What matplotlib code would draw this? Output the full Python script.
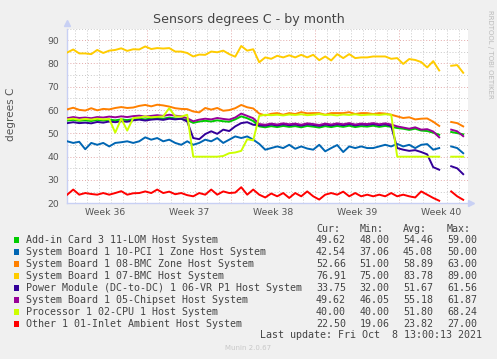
import numpy as np
import matplotlib
matplotlib.use("Agg")
import matplotlib.pyplot as plt
from matplotlib.patches import Rectangle

nan = np.nan
# time axis: days since Monday of week 36 (Sep 6 2021), 12-hour steps
days = np.round(0.35 + 0.5 * np.arange(67), 2)

addin = [55.5, 55.8, 55.4, 55.6, 55.3, 55.8, 55.5, 55.9, 55.6, 56.0, 55.7, 56.1, 56.3, 56.0, 56.4, 56.6,
         56.3, 56.8, 56.4, 56.2, 55.8, 54.5, 55.1, 55.4, 55.1, 55.6, 55.2, 55.0, 56.0, 57.3, 56.5, 55.3,
         53.0, 52.6, 53.1, 52.7, 53.2, 52.8, 53.1, 52.6, 53.2, 52.9, 52.5, 53.1, 52.7, 53.2, 52.8, 53.3,
         52.7, 53.1, 52.9, 53.3, 52.8, 53.2, 52.8, 52.3, 52.0, 51.5, 52.0, 51.2, 51.0, 50.3, 49.4, nan,
         50.6, 50.1, 49.6]
pci = [46.6, 45.9, 46.4, 43.2, 45.9, 45.1, 45.9, 44.4, 45.9, 46.2, 46.6, 45.9, 46.6, 48.3, 47.3, 48.0,
       46.6, 47.3, 45.9, 45.1, 46.6, 45.1, 45.9, 47.3, 46.6, 48.0, 45.9, 47.3, 48.7, 48.0, 48.7, 47.3,
       45.5, 43.0, 43.7, 44.4, 43.7, 45.1, 43.4, 44.4, 43.5, 43.0, 45.1, 42.3, 43.7, 45.0, 42.0, 44.4,
       43.7, 44.4, 43.7, 43.7, 44.4, 45.1, 44.4, 45.5, 44.4, 45.1, 43.7, 45.1, 45.4, 43.0, 43.7, nan,
       44.4, 43.7, 41.5]
bmc_zone = [60.3, 61.0, 60.1, 59.8, 60.8, 59.9, 60.5, 60.3, 60.9, 61.3, 60.9, 61.1, 61.8, 62.2, 61.6, 62.3,
            62.0, 61.5, 60.8, 60.5, 60.4, 59.4, 59.0, 60.9, 60.2, 60.9, 59.7, 60.0, 60.8, 62.2, 61.2, 60.7,
            58.5, 57.7, 58.4, 58.7, 58.0, 58.7, 58.3, 59.1, 58.6, 58.7, 58.7, 58.0, 58.7, 58.7, 58.7, 59.1,
            58.3, 58.7, 58.7, 58.3, 58.7, 58.5, 58.0, 57.3, 56.6, 56.9, 56.0, 56.3, 56.4, 55.0, 53.2, nan,
            54.9, 54.4, 53.0]
bmc = [84.7, 86.0, 84.3, 84.3, 84.0, 85.8, 84.5, 85.5, 85.8, 86.5, 85.4, 86.1, 86.0, 87.3, 86.2, 86.6,
       86.4, 86.6, 85.1, 85.1, 84.5, 83.0, 83.8, 83.7, 85.1, 84.8, 85.5, 84.0, 82.9, 87.5, 85.5, 86.1,
       80.5, 82.6, 82.0, 83.3, 82.6, 83.5, 82.6, 83.7, 82.6, 83.7, 81.4, 83.0, 81.3, 84.0, 82.3, 84.0,
       82.3, 82.6, 82.6, 83.0, 83.0, 83.0, 82.0, 82.3, 79.8, 81.9, 81.5, 80.6, 78.3, 81.0, 77.0, nan,
       79.0, 79.3, 76.0]
vr = [54.4, 54.8, 54.4, 54.6, 54.3, 54.9, 54.6, 55.1, 54.8, 55.2, 55.0, 55.6, 55.9, 55.5, 55.9, 56.1,
      55.8, 56.3, 56.0, 56.3, 55.1, 48.0, 47.5, 49.7, 50.9, 49.8, 51.6, 51.0, 53.0, 54.4, 54.8, 53.7,
      53.5, 53.3, 53.8, 53.4, 53.9, 53.5, 53.8, 53.3, 53.9, 53.6, 53.2, 53.8, 53.4, 53.9, 53.5, 54.0,
      53.4, 53.8, 53.6, 54.0, 53.5, 53.9, 53.2, 43.7, 43.0, 42.5, 42.8, 42.0, 41.0, 35.5, 34.4, nan,
      35.9, 35.0, 32.5]
chipset = [56.5, 57.0, 56.6, 56.8, 56.5, 57.0, 56.8, 57.2, 56.9, 57.3, 57.0, 57.4, 57.6, 57.2, 57.5, 57.8,
           57.5, 58.0, 57.6, 57.3, 56.5, 55.2, 55.9, 56.3, 56.0, 56.6, 56.2, 55.9, 56.8, 58.5, 57.5, 56.5,
           54.0, 53.7, 54.2, 53.8, 54.3, 53.9, 54.2, 53.7, 54.3, 54.0, 53.6, 54.2, 53.8, 54.3, 53.9, 54.4,
           53.8, 54.2, 54.0, 54.4, 53.9, 54.3, 53.8, 53.0, 52.5, 52.0, 52.6, 51.6, 51.8, 50.8, 48.3, nan,
           51.6, 50.9, 48.8]
cpu = [56.0, 56.3, 55.8, 56.2, 55.9, 56.3, 56.0, 56.2, 50.3, 56.3, 51.2, 56.6, 56.8, 57.3, 56.9, 57.1,
       57.3, 60.8, 57.3, 57.2, 58.0, 40.0, 40.0, 40.0, 40.0, 40.0, 40.3, 41.5, 41.8, 42.5, 47.5, 47.0,
       57.5, 58.0, 57.8, 58.0, 57.7, 58.1, 57.9, 58.2, 57.8, 58.0, 58.3, 57.9, 58.0, 57.7, 58.1, 57.9,
       58.2, 57.8, 58.0, 58.1, 57.9, 58.2, 58.0, 40.0, 40.0, 40.0, 40.0, 40.0, 40.0, 40.0, 40.0, nan,
       40.0, 40.0, 40.0]
inlet = [23.7, 25.9, 23.7, 24.4, 24.0, 23.7, 24.4, 23.7, 24.4, 25.2, 23.7, 24.3, 24.4, 25.1, 24.4, 25.9,
         24.4, 25.0, 23.9, 24.4, 23.5, 23.0, 24.4, 23.7, 25.9, 23.7, 25.1, 24.4, 24.6, 26.9, 23.7, 25.9,
         23.7, 22.5, 24.2, 23.0, 24.4, 22.3, 24.4, 23.0, 25.1, 23.0, 21.6, 23.7, 24.4, 23.7, 25.0, 23.0,
         24.4, 23.0, 23.7, 23.0, 23.7, 23.0, 24.4, 23.0, 23.7, 23.0, 22.5, 25.1, 23.7, 22.3, 21.1, nan,
         25.1, 23.0, 21.5]

labels = ["Add-in Card 3 11-LOM Host System",
          "System Board 1 10-PCI 1 Zone Host System",
          "System Board 1 08-BMC Zone Host System",
          "System Board 1 07-BMC Host System",
          "Power Module (DC-to-DC) 1 06-VR P1 Host System",
          "System Board 1 05-Chipset Host System",
          "Processor 1 02-CPU 1 Host System",
          "Other 1 01-Inlet Ambient Host System"]
colors = ["#00CC00", "#0066B3", "#FF8000", "#FFCC00", "#330099", "#990099", "#CCFF00", "#FF0000"]
cur_vals = [49.62, 42.54, 52.66, 76.91, 33.75, 49.62, 40.00, 22.50]
min_vals = [48.00, 37.06, 51.00, 75.00, 32.00, 46.05, 40.00, 19.06]
avg_vals = [54.46, 45.08, 58.89, 83.78, 51.67, 55.18, 51.80, 23.82]
max_vals = [59.00, 50.00, 63.00, 89.00, 61.56, 61.87, 68.24, 27.00]

week_starts = [7, 14, 21, 28]
week_label_pos = [3.5, 10.5, 17.5, 24.5, 31.5]
week_labels = ["Week 36", "Week 37", "Week 38", "Week 39", "Week 40"]

series = [addin, pci, bmc_zone, bmc, vr, chipset, cpu, inlet]

W, H = 497, 359
fig = plt.figure(figsize=(W / 100, H / 100), dpi=100)
fig.patch.set_facecolor("#F0F0F0")

x0, x1, ytop, ybot = 67, 468, 28.5, 203.3
ax = fig.add_axes([x0 / W, 1 - ybot / H, (x1 - x0) / W, (ybot - ytop) / H])
ax.set_facecolor("white")
ax.set_xlim(0.33, 33.75)
ax.set_ylim(20, 95)

minor_col = "#C8C8C8"
major_col = "#E3A9A9"
for d in range(1, 34):
    if d in week_starts:
        continue
    ax.axvline(d, color=minor_col, lw=0.7, ls=(0, (1, 2)), zorder=1)
for v in range(25, 96, 10):
    ax.axhline(v, color=minor_col, lw=0.7, ls=(0, (1, 2)), zorder=1)
for d in week_starts:
    ax.axvline(d, color=major_col, lw=0.7, ls=(0, (1, 2)), zorder=1)
for v in range(30, 91, 10):
    ax.axhline(v, color=major_col, lw=0.7, ls=(0, (1, 2)), zorder=1)

for vals, c in zip(series, colors):
    ax.plot(days, vals, color=c, lw=1.4, zorder=3, solid_joinstyle="round")

for s in ["top", "right"]:
    ax.spines[s].set_visible(False)
axis_col = "#C8D0F4"
for s in ["left", "bottom"]:
    ax.spines[s].set_color(axis_col)
    ax.spines[s].set_linewidth(1.0)
ax.plot(1.008, 0, ">", transform=ax.transAxes, clip_on=False, color=axis_col, ms=4, zorder=5)
ax.plot(0, 1.03, "^", transform=ax.transAxes, clip_on=False, color=axis_col, ms=4, zorder=5)

ax.set_yticks(range(20, 91, 10))
ax.set_xticks(week_label_pos)
ax.set_xticklabels(week_labels)
ax.tick_params(axis="both", length=0, labelsize=6.7, labelcolor="#555555")
ax.tick_params(axis="y", pad=5.5)
ax.tick_params(axis="x", pad=3.5)

fig.text(248.5 / W, 1 - 19.3 / H, "Sensors degrees C - by month", ha="center", va="center",
         fontsize=9.1, color="#444444")
fig.text(11 / W, 1 - 114 / H, "degrees C", rotation=90, ha="center", va="center",
         fontsize=7.6, color="#555555")
fig.text(490 / W, 1 - 54 / H, "RRDTOOL / TOBI OETIKER", rotation=270, ha="center", va="center",
         fontsize=5.0, color="#BBBBBB")

mono = "DejaVu Sans Mono"
tcol = "#444444"
fs = 7.2
cols_x = [316, 359.5, 403, 447]
for hx, ht in zip(cols_x, ["Cur:", "Min:", "Avg:", "Max:"]):
    fig.text(hx / W, 1 - 228.5 / H, ht, family=mono, fontsize=fs, color=tcol, ha="left", va="center")
for i, (lab, c) in enumerate(zip(labels, colors)):
    yc = 240 + 12 * i
    fig.patches.append(Rectangle((14 / W, 1 - (yc + 2.7) / H), 5.3 / W, 5.3 / H,
                                 transform=fig.transFigure, facecolor=c, edgecolor="none"))
    fig.text(26.3 / W, 1 - yc / H, lab, family=mono, fontsize=fs, color=tcol, ha="left", va="center")
    for cx, v in zip(cols_x, [cur_vals[i], min_vals[i], avg_vals[i], max_vals[i]]):
        fig.text(cx / W, 1 - yc / H, "%.2f" % v, family=mono, fontsize=fs, color=tcol,
                 ha="left", va="center")
fig.text(482 / W, 1 - 335.5 / H, "Last update: Fri Oct  8 13:00:13 2021", family=mono, fontsize=fs,
         color=tcol, ha="right", va="center")
fig.text(248 / W, 1 - 348 / H, "Munin 2.0.67", fontsize=5.0, color="#C8C8C8", ha="center", va="center")

fig.savefig("out.png", dpi=100, facecolor=fig.get_facecolor())
